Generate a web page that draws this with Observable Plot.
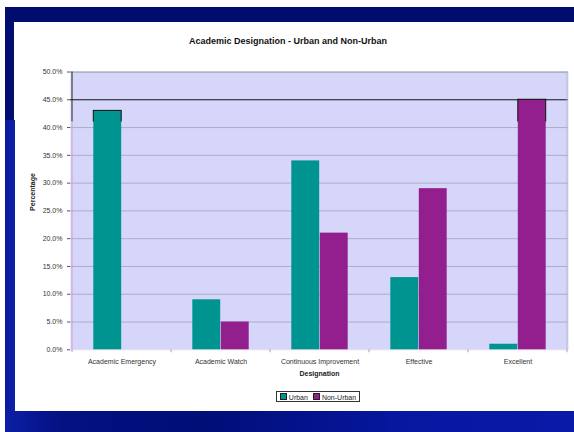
<!DOCTYPE html>
<html>
<head>
<meta charset="utf-8">
<script src="https://cdn.jsdelivr.net/npm/d3@7"></script>
<script src="https://cdn.jsdelivr.net/npm/@observablehq/plot@0.6"></script>
<style>
  html, body { margin: 0; padding: 0; background: #fff; }
  body { width: 574px; height: 432px; position: relative; overflow: hidden;
         font-family: "Liberation Sans", Arial, sans-serif; }
  .bg { position: absolute; }
  #topband { left: 5px; top: 7px; width: 569px; height: 15px; background: #000c6e; }
  #leftUpper { left: 5px; top: 22px; width: 9px; height: 98px; background: #000e72; }
  #leftLower { left: 5px; top: 120px; width: 10px; height: 291px;
               background: linear-gradient(90deg, #0a1a9c, #0d22a8); }
  #bottom { left: 5px; top: 411px; width: 569px; height: 21px;
            background: linear-gradient(90deg, #0d1ea4 0%, #031182 10%, #000e78 35%, #0717a0 70%, #0a1aa8 100%); }
  #chart { position: absolute; left: 0; top: 0; }
  #title { position: absolute; left: 0; width: 576px; top: 36px; text-align: center;
           font-size: 9px; font-weight: bold; color: #111; }
  #legend { position: absolute; left: 276px; top: 391px; width: 84px; height: 11px;
            border: 1px solid #333; background: #fff; font-size: 7px; color: #222;
            display: flex; align-items: center; justify-content: center; gap: 5px; box-sizing: border-box; }
  #legend span.sw { display: inline-block; width: 5px; height: 5px; border: 0.5px solid #222; margin-right: 2px; vertical-align: -0.5px; }
</style>
</head>
<body>
<div class="bg" id="topband"></div>
<div class="bg" id="leftUpper"></div>
<div class="bg" id="leftLower"></div>
<div class="bg" id="bottom"></div>
<div id="chart"></div>
<div id="title">Academic Designation - Urban and Non-Urban</div>
<div id="legend"><span><span class="sw" style="background:#009490"></span>Urban</span><span><span class="sw" style="background:#931f8e"></span>Non-Urban</span></div>
<script>
// Share of schools in each academic designation (percent)
const categories = ["Academic Emergency", "Academic Watch", "Continuous Improvement", "Effective", "Excellent"];
const urban = [43, 9, 34, 13, 1];
const nonUrban = [0, 5, 21, 29, 45];
const yTicks = [0, 5, 10, 15, 20, 25, 30, 35, 40, 45, 50];

const urbanRows = categories.map((c, i) => ({category: c, value: urban[i]}));
const nonUrbanRows = categories.map((c, i) => ({category: c, value: nonUrban[i]}));

const teal = "#009490";
const purple = "#931f8e";

const chart = Plot.plot({
  width: 574,
  height: 432,
  marginLeft: 70,
  marginRight: 6,
  marginTop: 71.5,
  marginBottom: 82.7,
  style: {background: "transparent", fontFamily: "'Liberation Sans', Arial, sans-serif", fontSize: "7px", color: "#333"},
  x: {domain: categories, padding: 0, axis: null},
  y: {domain: [0, 50], axis: null},
  marks: [
    Plot.frame({fill: "#d6d6fa", stroke: null}),
    // horizontal gridlines
    Plot.ruleY(yTicks.filter(d => d > 0 && d < 45), {stroke: "#adadc8", strokeWidth: 1}),
    Plot.ruleY([45], {stroke: "#111", strokeWidth: 1}),
    Plot.ruleY([50], {stroke: "#8a8a9a", strokeWidth: 1}),
    Plot.ruleY([0], {stroke: "#e6e0f0", strokeWidth: 1}),
    // bars
    Plot.barY(urbanRows, {x: "category", y: "value", fill: teal, insetLeft: 21.3, insetRight: 49.8}),
    Plot.barY(nonUrbanRows, {x: "category", y: "value", fill: purple, insetLeft: 49.8, insetRight: 21.3}),
    // dark bar outlines, shown only in the upper band of the plot
    Plot.barY(urbanRows, {x: "category", y: "value", fill: "none", stroke: "#111", insetLeft: 21.3, insetRight: 49.8}),
    Plot.barY(nonUrbanRows, {x: "category", y: "value", fill: "none", stroke: "#111", insetLeft: 49.8, insetRight: 21.3}),
    // axes
    Plot.axisY({ticks: yTicks, tickFormat: d => d.toFixed(1) + "%", tickSize: 3, tickPadding: 5, stroke: "#555", fill: "#333", fontSize: 7, label: null}),
    Plot.axisX({tickSize: 0, tickPadding: 9, fill: "#333", fontSize: 7, label: null}),
    Plot.text(["Designation"], {frameAnchor: "bottom", dy: 26, fontWeight: "bold", fontSize: 7, fill: "#222"}),
    Plot.text(["Percentage"], {frameAnchor: "left", dx: -38, rotate: -90, fontWeight: "bold", fontSize: 7, fill: "#222"})
  ]
});

const svg = d3.select(chart);
const xs = chart.scale("x");
const ys = chart.scale("y");
const y0 = ys.apply(0);
const left = xs.apply(categories[0]);
const right = xs.apply(categories[categories.length - 1]) + xs.bandwidth;

// clip the outline bars to the band above 41%
svg.append("clipPath").attr("id", "upper-band")
  .append("rect").attr("x", 0).attr("y", 0).attr("width", 574).attr("height", ys.apply(41));
svg.selectAll("g[aria-label='bar']").filter(function () { return this.getAttribute("fill") === "none"; })
  .attr("clip-path", "url(#upper-band)");

// left edge of the plot area: dark near the top, pale below
svg.append("line").attr("x1", left).attr("x2", left)
  .attr("y1", ys.apply(50)).attr("y2", ys.apply(41)).attr("stroke", "#222");
svg.append("line").attr("x1", left).attr("x2", left)
  .attr("y1", ys.apply(41)).attr("y2", y0).attr("stroke", "#c8a2d8");
svg.append("line").attr("x1", right).attr("x2", right)
  .attr("y1", ys.apply(50)).attr("y2", y0).attr("stroke", "#b8b8cc");

// tick marks between categories on the category axis
const bounds = categories.map(c => xs.apply(c)).concat([right]);
svg.append("g").selectAll("line").data(bounds).join("line")
  .attr("x1", d => d).attr("x2", d => d)
  .attr("y1", y0).attr("y2", y0 + 3)
  .attr("stroke", "#c58ad0");

document.getElementById("chart").append(chart);
</script>
</body>
</html>
